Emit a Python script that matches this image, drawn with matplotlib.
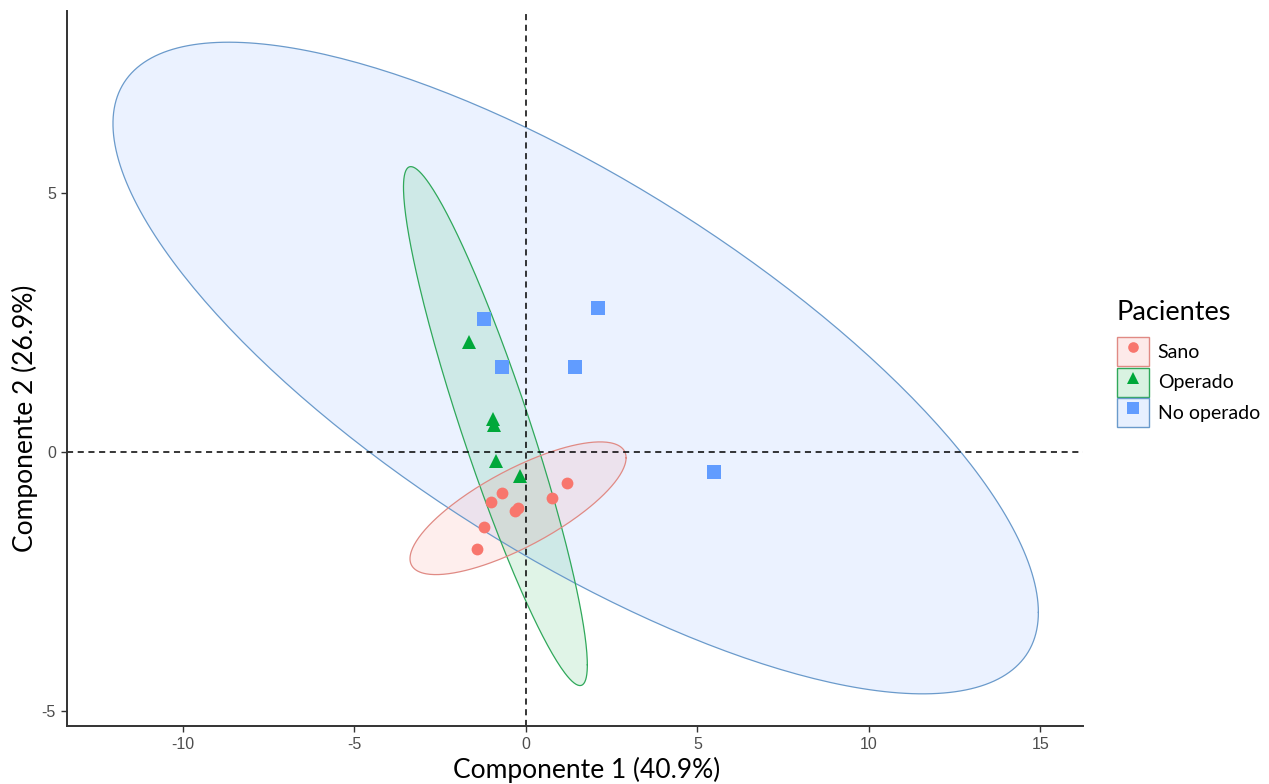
import numpy as np
import matplotlib
matplotlib.use("Agg")
import matplotlib.pyplot as plt
from matplotlib.patches import Patch
from matplotlib.lines import Line2D
from matplotlib.colors import to_rgba

# ---- data ----
groups = ["Sano", "Operado", "No operado"]
colors = ["#F8766D", "#00A83A", "#619CFF"]
edge_colors = ["#E08A84", "#2FA85A", "#6A9ACB"]
markers = ["o", "^", "s"]
msizes = [8.5, 10, 9.5]

sano_x = [1.20, 0.75, -0.71, -1.03, -0.32, -0.22, -1.22, -1.44]
sano_y = [-0.60, -0.88, -0.78, -0.95, -1.13, -1.07, -1.45, -1.87]

operado_x = [-1.65, -0.95, -0.93, -0.88, -0.17]
operado_y = [2.13, 0.64, 0.53, -0.16, -0.46]

nooperado_x = [-1.23, -0.71, 1.42, 2.10, 5.48]
nooperado_y = [2.58, 1.65, 1.65, 2.78, -0.39]

# ellipse centre, half ranges and correlation
ell_cx = [-0.23, -0.89, 1.45]
ell_cy = [-1.08, 0.505, 1.625]
ell_sx = [3.15, 2.68, 13.49]
ell_sy = [1.28, 5.005, 6.285]
ell_rho = [0.76, -0.92, -0.75]

xs = [sano_x, operado_x, nooperado_x]
ys = [sano_y, operado_y, nooperado_y]


def ellipse_xy(cx, cy, sx, sy, rho, n=300):
    t = np.linspace(0, 2 * np.pi, n)
    cov = np.array([[sx ** 2, rho * sx * sy], [rho * sx * sy, sy ** 2]])
    L = np.linalg.cholesky(cov)
    pts = L @ np.vstack([np.cos(t), np.sin(t)])
    return pts[0] + cx, pts[1] + cy


fig = plt.figure(figsize=(12.69, 7.84), dpi=100)
ax = fig.add_axes([0.0528, 0.074, 0.8006, 0.9125])

# ellipses: blue first, then green, then red
for i in [2, 1, 0]:
    ex, ey = ellipse_xy(ell_cx[i], ell_cy[i], ell_sx[i], ell_sy[i], ell_rho[i])
    ax.fill(ex, ey, facecolor=to_rgba(colors[i], 0.12), edgecolor="none", zorder=1 + (2 - i) * 0.1)
    ax.plot(ex, ey, color=edge_colors[i], lw=0.9, zorder=1.5 + (2 - i) * 0.1)

ax.axhline(0, color="black", ls=(0, (4, 3)), lw=1.1, zorder=2)
ax.axvline(0, color="black", ls=(0, (4, 3)), lw=1.1, zorder=2)

for i in range(3):
    ax.plot(xs[i], ys[i], linestyle="none", marker=markers[i], ms=msizes[i],
            color=colors[i], markeredgewidth=0, zorder=3)

ax.set_xlim(-13.38, 16.24)
ax.set_ylim(-5.28, 8.52)
ax.set_xticks([-10, -5, 0, 5, 10, 15])
ax.set_yticks([-5, 0, 5])
ax.set_xticklabels(["-10", "-5", "0", "5", "10", "15"])
ax.set_yticklabels(["-5", "0", "5"])

for s in ["top", "right"]:
    ax.spines[s].set_visible(False)
for s in ["left", "bottom"]:
    ax.spines[s].set_color("#333333")
    ax.spines[s].set_linewidth(1.4)

ax.tick_params(length=4, width=1, color="#333333", labelcolor="#4d4d4d",
               labelsize=11.5, pad=4)
for lab in ax.get_xticklabels() + ax.get_yticklabels():
    lab.set_family("Liberation Sans")

ax.set_xlabel("Componente 1 (40.9%)", fontsize=19, family="Lato")
ax.set_ylabel("Componente 2 (26.9%)", fontsize=19, family="Lato")
ax.xaxis.set_label_coords(0.5115, -0.043)
ax.yaxis.set_label_coords(-0.029, 0.4306)

# legend: title as separate text, keys = filled box + marker
fig.text(0.8795, 0.6008, "Pacientes", fontsize=19.5, family="Lato", va="center", ha="left")

handles = []
for i in range(3):
    p = Patch(facecolor=to_rgba(colors[i], 0.15), edgecolor=edge_colors[i], lw=1)
    m = Line2D([], [], linestyle="none", marker=markers[i], color=colors[i],
               ms=msizes[i] * 0.9, markeredgewidth=0)
    handles.append((p, m))

leg = fig.legend(handles, groups, loc="upper left", bbox_to_anchor=(0.8802, 0.5702),
                 frameon=False, prop={"family": "Lato", "size": 14},
                 handlelength=1.65, handleheight=1.92, handletextpad=0.45,
                 labelspacing=0.08, borderaxespad=0, borderpad=0)

fig.savefig("out.png", dpi=100)
